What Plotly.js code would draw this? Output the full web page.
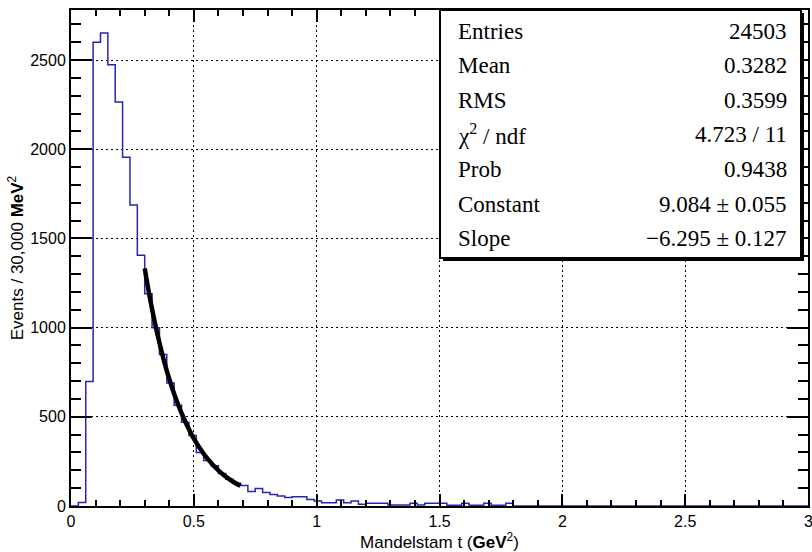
<!DOCTYPE html>
<html>
<head>
<meta charset="utf-8">
<script src="https://cdn.plot.ly/plotly-3.0.1.min.js"></script>
<style>html,body{margin:0;padding:0;background:#fff;}#chart{width:812px;height:552px;}</style>
</head>
<body>
<div id="chart"></div>
<script>
// Histogram definition: 0.03 GeV^2 (30,000 MeV^2) bins starting at 0
const binLow = 0;
const binWidth = 0.03;
const xMax = 3;
// Bin contents
const counts = [0, 20, 698, 2600, 2652, 2474, 2265, 1955, 1687, 1406,
  1190, 1000, 850, 690, 565, 470, 395, 300, 255, 225,
  182, 150, 128, 115, 82, 98, 76, 64, 56, 47,
  52, 52, 37, 28, 18, 18, 33, 18, 28, 10,
  16, 16, 16, 5, 5, 5, 16, 5, 16, 16,
  16, 4, 4, 16, 4, 4, 16, 4, 4, 16];

// Exponential fit curve
const fitT = [0.30, 0.32, 0.34, 0.36, 0.38, 0.40, 0.43, 0.46, 0.50, 0.54, 0.58, 0.62, 0.66, 0.69];
const fitN = [1333, 1176, 1037, 915, 807, 712, 590, 489, 378, 293, 227, 175, 136, 113];

// Stats box
const statNames = ["Entries", "Mean", "RMS", "χ<sup>2</sup> / ndf", "Prob", "Constant", "Slope"];
const statValues = ["24503", "0.3282", "0.3599", "4.723 / 11", "0.9438", "9.084 ± 0.055", "−6.295 ± 0.127"];

const xTickVals = [0, 0.5, 1, 1.5, 2, 2.5, 3];
const xTickText = ["0", "0.5", "1", "1.5", "2", "2.5", "3"];
const yTickVals = [0, 500, 1000, 1500, 2000, 2500];
const yTickText = ["0", "500", "1000", "1500", "2000", "2500"];

// Build step outline
const hx = [], hy = [];
for (let i = 0; i < counts.length; i++) {
  hx.push(binLow + i * binWidth);
  hy.push(counts[i]);
}
hx.push(binLow + counts.length * binWidth); hy.push(0);
hx.push(xMax); hy.push(0);

const W = 812, H = 552;
const L = 71, R = 4, T = 10, B = 46;
const pw = W - L - R, ph = H - T - B;
const px2paperX = p => (p - L) / pw;
const py2paperY = p => (H - B - p) / ph;

const traces = [
  { x: hx, y: hy, type: 'scatter', mode: 'lines', line: { shape: 'hv', color: '#2626b4', width: 1.5 }, hoverinfo: 'skip' },
  { x: fitT, y: fitN, type: 'scatter', mode: 'lines', line: { shape: 'spline', color: '#000', width: 4.5 }, hoverinfo: 'skip' }
];

const bx0 = px2paperX(440), bx1 = px2paperX(801), by0 = py2paperY(258), by1 = 1;
const shapes = [
  { type: 'rect', xref: 'paper', yref: 'paper', x0: bx0 + 3 / pw, x1: bx1 + 3 / pw, y0: by0 - 3 / ph, y1: by1 - 3 / ph, fillcolor: '#000', line: { width: 0 }, layer: 'above' },
  { type: 'rect', xref: 'paper', yref: 'paper', x0: bx0, x1: bx1, y0: by0, y1: by1, fillcolor: '#fff', line: { color: '#000', width: 2 }, layer: 'above' }
];

const tickFont = { family: 'Liberation Sans, Arial, sans-serif', size: 16, color: '#000' };

const annotations = [];
for (let k = 0; k < statNames.length; k++) {
  const yp = py2paperY(31 + 34.6 * k);
  annotations.push({ xref: 'paper', yref: 'paper', x: px2paperX(456), y: yp, xanchor: 'left', yanchor: 'middle', text: statNames[k], showarrow: false, font: { family: 'Liberation Serif, serif', size: 23, color: '#000' } });
  annotations.push({ xref: 'paper', yref: 'paper', x: px2paperX(789), y: yp, xanchor: 'right', yanchor: 'middle', text: statValues[k], showarrow: false, font: { family: 'Liberation Serif, serif', size: 23, color: '#000' } });
}
// last x tick label at the right edge (Plotly drops it because it overflows the page)
annotations.push({ xref: 'x', yref: 'paper', x: xTickVals[xTickVals.length - 1], y: py2paperY(511), xanchor: 'center', yanchor: 'top', text: xTickText[xTickText.length - 1], showarrow: false, font: tickFont });

const layout = {
  width: W, height: H,
  margin: { l: L, r: R, t: T, b: B, pad: 0 },
  paper_bgcolor: '#fff', plot_bgcolor: '#fff',
  showlegend: false,
  xaxis: {
    range: [0, xMax], tickvals: xTickVals.slice(0, -1), ticktext: xTickText.slice(0, -1),
    ticks: 'inside', ticklen: 12, tickwidth: 2, tickcolor: '#000',
    minor: { dtick: 0.1, ticks: 'inside', ticklen: 6, tickwidth: 2, tickcolor: '#000', showgrid: false },
    showline: true, linecolor: '#000', linewidth: 2, mirror: 'allticks',
    showgrid: true, gridcolor: '#000', gridwidth: 1, griddash: '2px,3px',
    zeroline: false, tickfont: tickFont,
    title: { text: 'Mandelstam t (<b>GeV</b><sup>2</sup>)', font: { family: 'Liberation Sans, Arial, sans-serif', size: 17, color: '#000' }, standoff: 4 }
  },
  yaxis: {
    range: [0, 2781], tickvals: yTickVals, ticktext: yTickText,
    ticks: 'inside', ticklen: 21, tickwidth: 2, tickcolor: '#000',
    minor: { dtick: 100, ticks: 'inside', ticklen: 10, tickwidth: 2, tickcolor: '#000', showgrid: false },
    showline: true, linecolor: '#000', linewidth: 2, mirror: 'allticks',
    showgrid: true, gridcolor: '#000', gridwidth: 1, griddash: '2px,3px',
    zeroline: false, tickfont: tickFont,
    title: { text: 'Events / 30,000 <b>MeV</b><sup>2</sup>', font: { family: 'Liberation Sans, Arial, sans-serif', size: 17, color: '#000' }, standoff: 2 }
  },
  shapes: shapes,
  annotations: annotations
};

Plotly.newPlot('chart', traces, layout, { staticPlot: true, displayModeBar: false });
</script>
</body>
</html>
